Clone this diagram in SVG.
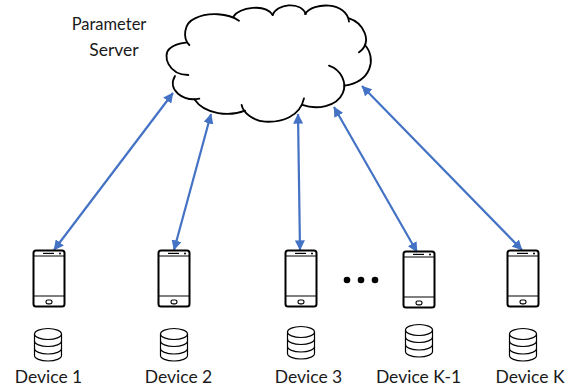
<svg xmlns="http://www.w3.org/2000/svg" width="579" height="392" viewBox="0 0 579 392">
<style>
text{font-family:"Lato","Open Sans","Liberation Sans",sans-serif;font-size:17.5px;fill:#1a1a1a;text-anchor:middle}
.arrow{fill:none;stroke:#4472c4;stroke-width:2.2;marker-start:url(#head);marker-end:url(#head)}
.ic{fill:none;stroke:#000;stroke-width:1.2}
.cl{fill:none;stroke:#000;stroke-width:5.5;stroke-linecap:round}
</style>
<defs>
<marker id="head" viewBox="0 0 10 10" refX="9.5" refY="5" markerWidth="4.6" markerHeight="4.6" orient="auto-start-reverse"><path d="M0 0L10 5L0 10z" fill="#4472c4"/></marker>
<symbol id="phone" width="34" height="60" viewBox="-1 -1 34 60" overflow="visible">
<rect x="0.5" y="0.5" width="31" height="56" rx="2.5" class="ic" style="stroke-width:2"/>
<path d="M0.5 6H31.5M0.5 46H31.5" class="ic"/>
<path d="M10 3.400H21" class="ic"/>
<circle cx="27" cy="3.400" r="1" fill="#000"/>
<rect x="13" y="50" width="6" height="3.800" rx="1.800" class="ic"/>
</symbol>
<symbol id="db" width="30" height="36" viewBox="-1 -1 30 36" overflow="visible">
<ellipse cx="14" cy="6" rx="13.500" ry="5.500" class="ic"/>
<path d="M0.500 6V27.500C0.500 30.500 6.500 33 14 33S27.500 30.500 27.500 27.500V6" class="ic"/>
<path d="M0.500 13C0.500 16 6.500 18.500 14 18.500S27.500 16 27.500 13M0.500 20.500C0.500 23.500 6.500 26 14 26S27.500 23.500 27.500 20.500" class="ic"/>
</symbol>
</defs>
<g id="connectors">
<path class="arrow" d="M54 250L173 93"/>
<path class="arrow" d="M174 250L211 114"/>
<path class="arrow" d="M300 250L298 114"/>
<path class="arrow" d="M417 252L334 107"/>
<path class="arrow" d="M522 250L362 86"/>
</g>
<g id="parameter-server">
<g transform="translate(150 0) scale(0.3333)">
<path class="cl" d="M118 135C98 115 100 70 135 55C175 35 235 40 267 62"/>
<path class="cl" d="M250 50C270 22 345 10 368 45"/>
<path class="cl" d="M368 45C380 12 450 2 468 42"/>
<path class="cl" d="M465 42C490 5 590 5 597 65"/>
<path class="cl" d="M597 55C640 68 670 125 627 157"/>
<path class="cl" d="M645 135C680 175 665 245 583 257"/>
<path class="cl" d="M537 197C575 210 592 250 578 280C560 320 500 330 457 315"/>
<path class="cl" d="M462 295C450 350 395 368 345 365C310 362 280 340 275 315"/>
<path class="cl" d="M285 332C240 350 165 345 133 298"/>
<path class="cl" d="M148 296C100 305 50 270 75 228"/>
<path class="cl" d="M115 225C55 225 35 165 60 145C75 132 90 130 108 128"/>
</g>
<text x="109" y="30" style="font-size:16.500px">Parameter</text>
<text x="114" y="56">Server</text>
</g>
<g id="device-1"><use href="#phone" x="32" y="249"/><use href="#db" x="33" y="327"/><text x="48.500" y="383">Device 1</text></g>
<g id="device-2"><use href="#phone" x="157" y="249"/><use href="#db" x="159" y="327"/><text x="178.500" y="383">Device 2</text></g>
<g id="device-3"><use href="#phone" x="284" y="249"/><use href="#db" x="286" y="325"/><text x="308.500" y="383">Device 3</text></g>
<g id="device-k-1"><use href="#phone" x="402" y="250"/><use href="#db" x="404" y="323"/><text x="418.500" y="383">Device K-1</text></g>
<g id="device-k"><use href="#phone" x="506" y="249"/><use href="#db" x="508" y="327"/><text x="530" y="383">Device K</text></g>
<g id="ellipsis" fill="#000"><circle cx="347" cy="280" r="3.300"/><circle cx="361" cy="280" r="3.300"/><circle cx="375" cy="280" r="3.300"/></g>
</svg>
